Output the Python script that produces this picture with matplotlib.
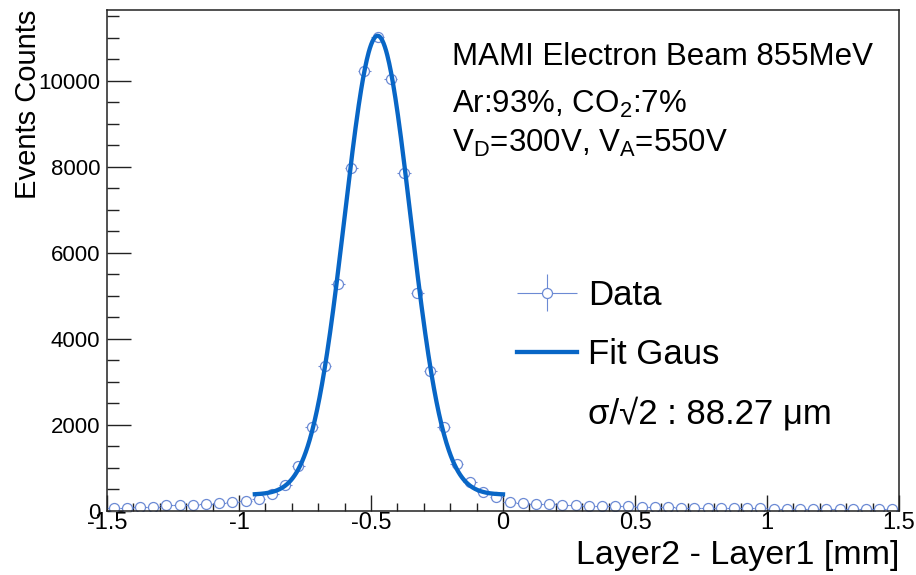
import numpy as np
import matplotlib.pyplot as plt
from matplotlib.lines import Line2D
from matplotlib.legend_handler import HandlerErrorbar
from matplotlib.ticker import MultipleLocator, FormatStrFormatter

plt.rcParams['font.family'] = ['Liberation Sans', 'DejaVu Sans']
plt.rcParams['mathtext.fontset'] = 'custom'
plt.rcParams['mathtext.rm'] = 'Liberation Sans'
plt.rcParams['mathtext.it'] = 'Liberation Sans:italic'
plt.rcParams['axes.unicode_minus'] = False

# histogram: 60 bins of 0.05 mm between -1.5 and 1.5
x_min, x_max, n_bins = -1.5, 1.5, 60
counts = [75, 78, 85, 100, 130, 138, 140, 156, 185, 205,
          240, 290, 400, 605, 1050, 1950, 3375, 5290, 7965, 10225,
          11020, 10040, 7860, 5060, 3255, 1945, 1085, 680, 435, 335,
          215, 175, 165, 155, 140, 135, 115, 112, 110, 108,
          100, 92, 85, 80, 75, 72, 68, 65, 62, 60,
          57, 55, 52, 50, 48, 46, 44, 42, 40, 38]

# gaus + const fit result
fit_amp = 10670
fit_mean = -0.475
fit_sigma = 0.1248
fit_bkg = 380
fit_lo, fit_hi = -0.94, 0.0

data_color = '#6c8ad4'
fit_color = '#0866c6'

edges = np.linspace(x_min, x_max, n_bins + 1)
centers = 0.5 * (edges[1:] + edges[:-1])
half_w = 0.5 * (edges[1] - edges[0])
counts = np.array(counts, dtype=float)

fig = plt.figure(figsize=(9.16, 5.75), dpi=100)
ax = fig.add_axes([107/916, 1 - 511/575, (899 - 107)/916, (511 - 10)/575])

eb = ax.errorbar(centers, counts, xerr=half_w, yerr=np.sqrt(counts), fmt='o',
                 ms=7.2, mfc='white', mec=data_color, mew=0.9,
                 ecolor=data_color, elinewidth=0.8, capsize=0, zorder=2)

xf = np.linspace(fit_lo, fit_hi, 400)
yf = fit_amp * np.exp(-0.5 * ((xf - fit_mean) / fit_sigma) ** 2) + fit_bkg
fit_line, = ax.plot(xf, yf, color=fit_color, lw=3.1, zorder=3)

ax.set_xlim(x_min, x_max)
ax.set_ylim(0, 11650)
ax.xaxis.set_major_locator(MultipleLocator(0.5))
ax.xaxis.set_minor_locator(MultipleLocator(0.1))
ax.yaxis.set_major_locator(MultipleLocator(2000))
ax.yaxis.set_minor_locator(MultipleLocator(500))
ax.xaxis.set_major_formatter(FormatStrFormatter('%g'))
ax.yaxis.set_major_formatter(FormatStrFormatter('%d'))
ax.tick_params(which='both', direction='in', top=False, right=False, color='#222222')
ax.tick_params(axis='x', which='major', length=11.5, width=1, labelsize=17, pad=1)
ax.tick_params(axis='x', which='minor', length=5.8, width=1)
ax.tick_params(axis='y', which='major', length=17, width=1, labelsize=16, pad=5)
ax.tick_params(axis='y', which='minor', length=8.6, width=1)
for s in ax.spines.values():
    s.set_linewidth(1.1)
    s.set_color('#222222')

ax.set_xlabel('Layer2 - Layer1 [mm]', loc='right', fontsize=24.5)
ax.xaxis.set_label_coords(1.0, -0.058)
ax.set_ylabel('Events Counts', loc='top', fontsize=21)
ax.yaxis.set_label_coords(-0.082, 1.0)

fig.text(452/916, 1 - 65/575, 'MAMI Electron Beam 855MeV', fontsize=22.5, va='baseline')
fig.text(452/916, 1 - 113/575, r'Ar:93%, CO$_2$:7%', fontsize=22.5, va='baseline')
fig.text(452/916, 1 - 152/575, r'V$_\mathrm{D}$=300V, V$_\mathrm{A}$=550V', fontsize=22.5, va='baseline')

blank = Line2D([], [], ls='none')
leg = ax.legend([eb, fit_line, blank], ['Data', 'Fit Gaus', 'σ/√2 : 88.27 μm'],
                handler_map={type(eb): HandlerErrorbar(xerr_size=0.86, yerr_size=0.53)},
                loc='upper left', bbox_to_anchor=(517/916, 1 - 279/575),
                bbox_transform=fig.transFigure, frameon=False, fontsize=25,
                handlelength=1.73, handletextpad=0.32, labelspacing=0.74,
                borderpad=0, borderaxespad=0)

fig.savefig('out.png', dpi=100)
